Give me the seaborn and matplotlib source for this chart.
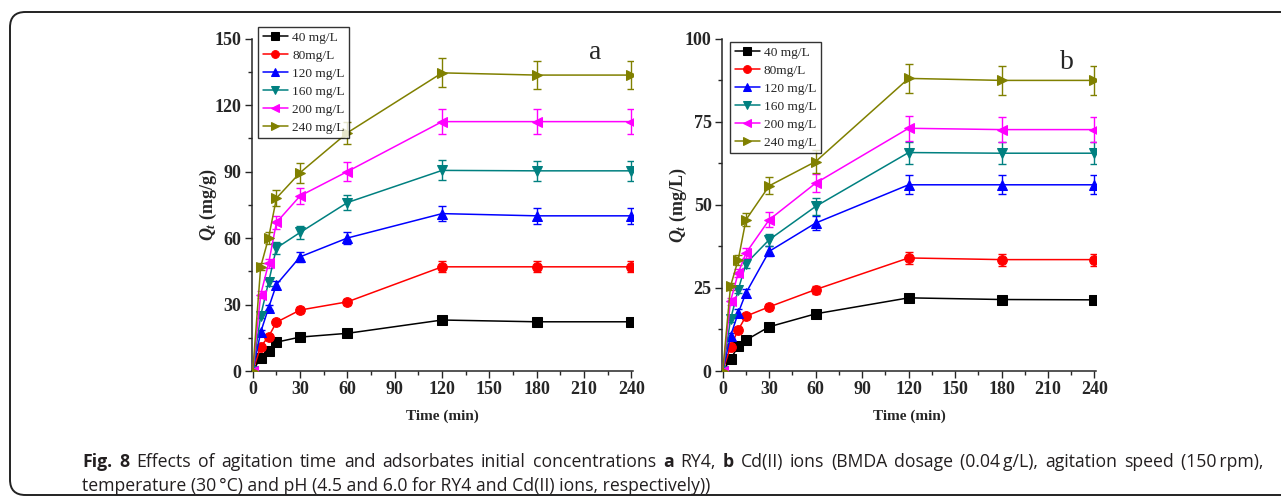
import numpy as np
import pandas as pd
import matplotlib
matplotlib.use("Agg")
import matplotlib.pyplot as plt
from matplotlib.patches import FancyBboxPatch
from matplotlib.ticker import MultipleLocator
import seaborn as sns

sns.set_style("ticks")
plt.rcParams['font.family'] = ['Liberation Serif', 'DejaVu Serif']
plt.rcParams['mathtext.fontset'] = 'custom'
plt.rcParams['mathtext.it'] = 'Liberation Serif:italic:bold'
plt.rcParams['mathtext.rm'] = 'Liberation Serif:bold'
plt.rcParams['mathtext.bf'] = 'Liberation Serif:bold'

time_min = [0, 5, 10, 15, 30, 60, 120, 180, 240]
labels = ["40 mg/L", "80mg/L", "120 mg/L", "160 mg/L", "200 mg/L", "240 mg/L"]
colors = ["#000000", "#ff0000", "#0000ff", "#008080", "#ff00ff", "#808000"]
markers = ["s", "o", "^", "v", "<", ">"]

# Panel a: RY4 (mg/g)
a_40 = [0, 6.0, 9.0, 13.0, 15.3, 17.0, 23.0, 22.2, 22.2]
a_80 = [0, 11.0, 15.5, 22.0, 27.5, 31.2, 47.0, 47.0, 47.0]
a_120 = [0, 17.5, 28.5, 39.0, 51.5, 60.0, 71.0, 70.0, 70.0]
a_160 = [0, 25.0, 40.0, 55.5, 62.5, 76.0, 90.5, 90.3, 90.3]
a_200 = [0, 34.5, 48.5, 67.0, 79.0, 90.0, 112.5, 112.5, 112.5]
a_240 = [0, 47.0, 60.0, 78.0, 89.5, 107.5, 134.5, 133.5, 133.5]
a_err_40 = [0, 0.4, 0.5, 0.6, 0.7, 0.8, 1.0, 1.0, 1.0]
a_err_80 = [0, 0.6, 0.8, 1.0, 1.3, 1.5, 2.5, 2.5, 2.5]
a_err_120 = [0, 1.0, 1.2, 1.8, 2.3, 2.8, 3.5, 3.5, 3.5]
a_err_160 = [0, 1.0, 1.5, 2.5, 3.0, 3.5, 4.5, 4.5, 4.5]
a_err_200 = [0, 1.5, 2.0, 3.0, 3.5, 4.5, 5.5, 5.5, 5.5]
a_err_240 = [0, 1.5, 2.5, 3.5, 4.5, 5.0, 6.5, 6.5, 6.5]

# Panel b: Cd(II) (mg/L)
b_40 = [0, 3.5, 7.5, 9.3, 13.3, 17.2, 22.0, 21.5, 21.4]
b_80 = [0, 7.3, 12.4, 16.5, 19.3, 24.5, 34.0, 33.5, 33.5]
b_120 = [0, 10.5, 17.5, 23.5, 36.0, 44.5, 56.0, 56.0, 56.0]
b_160 = [0, 15.5, 24.5, 32.3, 39.5, 49.5, 65.7, 65.5, 65.5]
b_200 = [0, 21.0, 29.5, 35.5, 45.5, 56.5, 73.0, 72.6, 72.6]
b_240 = [0, 25.5, 33.5, 45.5, 55.7, 63.0, 88.0, 87.4, 87.4]
b_err_40 = [0, 0.4, 0.5, 0.6, 0.7, 0.8, 1.0, 1.0, 1.0]
b_err_80 = [0, 0.5, 0.7, 0.8, 1.0, 1.2, 1.8, 1.8, 1.8]
b_err_120 = [0, 0.8, 1.0, 1.2, 1.5, 2.2, 2.8, 2.8, 2.8]
b_err_160 = [0, 0.8, 1.0, 1.3, 1.8, 2.5, 3.3, 3.3, 3.3]
b_err_200 = [0, 1.0, 1.3, 1.5, 2.3, 2.6, 3.7, 3.7, 3.7]
b_err_240 = [0, 1.0, 1.5, 2.0, 2.5, 3.5, 4.4, 4.4, 4.4]

a_vals = [a_40, a_80, a_120, a_160, a_200, a_240]
a_errs = [a_err_40, a_err_80, a_err_120, a_err_160, a_err_200, a_err_240]
b_vals = [b_40, b_80, b_120, b_160, b_200, b_240]
b_errs = [b_err_40, b_err_80, b_err_120, b_err_160, b_err_200, b_err_240]

caption_line1 = [("Fig. 8", True), ("Effects of agitation time and adsorbates initial concentrations", False),
                 ("a", True), ("RY4,", False), ("b", True),
                 ("Cd(II) ions (BMDA dosage (0.04\u2009g/L), agitation speed (150\u2009rpm),", False)]
caption_line2 = "temperature (30\u2009\u00b0C) and pH (4.5 and 6.0 for RY4 and Cd(II) ions, respectively))"

W, H = 1281, 498
fig = plt.figure(figsize=(W / 100, H / 100), dpi=100)

# rounded frame (open to the right, as in the page crop)
frame = FancyBboxPatch((10 / W, 1 - 495 / H), 1.2, (495 - 12) / H,
                       boxstyle="round,pad=0,rounding_size=0.012",
                       transform=fig.transFigure, fill=False,
                       edgecolor="#222222", linewidth=1.4, clip_on=False,
                       mutation_aspect=W / H)
fig.patches.append(frame)


def panel(rect, vals, errs, lbls, ymax, ystep, yminor, ylabel, letter, letter_pos, legend_bbox):
    ax = fig.add_axes(rect)
    for v, e, c, m, l in zip(vals, errs, colors, markers, lbls):
        df = pd.DataFrame({"Time": time_min, "Q": v})
        sns.lineplot(data=df, x="Time", y="Q", ax=ax, color=c, marker=m,
                     markersize=7, markeredgecolor=c, linewidth=1.1, label=l,
                     zorder=3)
        ax.errorbar(time_min, v, yerr=e, fmt="none", ecolor=c, elinewidth=1.0,
                    capsize=2.8, capthick=1.0, zorder=2)
    ax.set_xlim(-0.5, 241)
    ax.set_ylim(0, ymax)
    ax.xaxis.set_major_locator(MultipleLocator(30))
    ax.xaxis.set_minor_locator(MultipleLocator(15))
    ax.yaxis.set_major_locator(MultipleLocator(ystep))
    ax.yaxis.set_minor_locator(MultipleLocator(yminor))
    ax.tick_params(axis="both", which="major", direction="out", length=5,
                   width=1.0, labelsize=13, pad=2.5)
    ax.tick_params(axis="both", which="minor", direction="out", length=3, width=1.0)
    for t in ax.get_xticklabels() + ax.get_yticklabels():
        t.set_fontweight("bold")
    sns.despine(ax=ax)
    for s in ("left", "bottom"):
        ax.spines[s].set_linewidth(1.1)
    ax.set_xlabel("Time (min)", fontsize=11, fontweight="bold", labelpad=8)
    ax.set_ylabel(ylabel, fontsize=13, fontweight="bold", labelpad=-3)
    ax.text(letter_pos[0], letter_pos[1], letter, transform=ax.transAxes,
            fontsize=20, ha="center", va="center")
    leg = ax.legend(loc="upper left", bbox_to_anchor=legend_bbox, frameon=True,
                    fancybox=False, edgecolor="black", fontsize=9.6,
                    handlelength=1.9, handletextpad=0.3, labelspacing=0.42,
                    borderpad=0.35, borderaxespad=0, markerscale=0.8)
    leg.get_frame().set_linewidth(1.0)
    return ax


ax_a = panel([252 / W, 1 - 371 / H, (633 - 252) / W, (371 - 38.5) / H],
             a_vals, a_errs, labels, 150, 30, 15,
             r"$Q_t$ (mg/g)", "a", (0.900, 0.959), (0.016, 1.035))
ax_b = panel([722 / W, 1 - 371 / H, (1096 - 722) / W, (371 - 38.5) / H],
             b_vals, b_errs, labels, 100, 25, 12.5,
             r"$Q_t$ (mg/L)", "b", (0.922, 0.929), (0.021, 0.989))

# caption
cap_font = ["Open Sans", "DejaVu Sans"]
cap_size = 12.7
cap_color = "#231f20"
fig.canvas.draw()
renderer = fig.canvas.get_renderer()

# line 1: justified between x=82 and x=1263 (word-by-word)
words = []
for txt, bold in caption_line1:
    for w in txt.split(" "):
        words.append((w, bold))
objs = []
total = 0.0
for w, bold in words:
    t = fig.text(0, 1 - 462 / H, w, fontsize=cap_size,
                 fontweight="bold" if bold else "normal",
                 family=cap_font, va="center", ha="left", color=cap_color)
    wd = t.get_window_extent(renderer=renderer).width
    objs.append((t, wd))
    total += wd
gap = (1263 - 82 - total) / (len(objs) - 1)
x = 82.0
for t, wd in objs:
    t.set_x(x / W)
    x += wd + gap

fig.text(82 / W, 1 - 486 / H, caption_line2, fontsize=cap_size,
         family=cap_font, va="center", ha="left", color=cap_color)

fig.savefig("out.png", dpi=100)
